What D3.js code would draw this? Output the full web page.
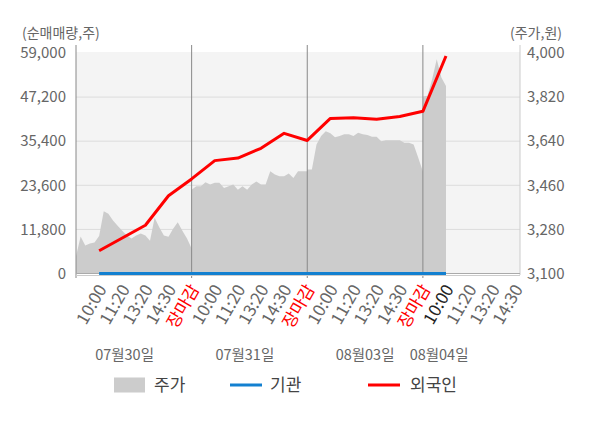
<!DOCTYPE html>
<html>
<head>
<meta charset="utf-8">
<script src="https://cdn.jsdelivr.net/npm/d3@7"></script>
<style>
  body { margin: 0; background: #fff; }
  svg text { font-family: "Noto Sans CJK KR", "Noto Sans", sans-serif; }
</style>
</head>
<body>
<div id="chart"></div>
<script>
const days = ["07월30일", "07월31일", "08월03일", "08월04일"];
const tickTimes = ["10:00", "11:20", "13:20", "14:30", "장마감"];
const dayLabelSlots = [2.1, 7.3, 12.5, 15.7];

const leftTicks = [0, 11800, 23600, 35400, 47200, 59000];
const rightTicks = [3100, 3280, 3460, 3640, 3820, 4000];

// 주가, one value every 0.2 slot
const priceDay1 = [3170, 3251, 3214, 3222, 3227, 3253, 3354, 3344, 3316, 3295, 3275, 3255, 3243,
  3255, 3263, 3255, 3234, 3328, 3289, 3255, 3250, 3283, 3309, 3275, 3243, 3202];
const priceDay2 = [3442, 3456, 3456, 3472, 3463, 3470, 3470, 3449, 3456, 3463, 3442, 3456, 3442,
  3463, 3476, 3463, 3463, 3517, 3504, 3497, 3497, 3508, 3490, 3517, 3517, 3517];
const priceDay3 = [3524, 3524, 3627, 3661, 3681, 3672, 3656, 3661, 3668, 3668, 3661, 3675, 3668,
  3665, 3658, 3658, 3640, 3644, 3644, 3644, 3644, 3634, 3634, 3627, 3572, 3516];
const priceDay4 = [3822, 3826, 3893, 3975, 3900, 3865];

// 순매매량 at each tick slot (1..16)
const foreign = [6100, 9500, 12900, 20800, 25300, 30200, 30900, 33500, 37500, 35600,
  41500, 41700, 41300, 42000, 43400, 58200];
const institution = [0, 0, 0, 0, 0, 0, 0, 0, 0, 0, 0, 0, 0, 0, 0, 0];

const width = 600, height = 428;
const plotLeft = 76, plotRight = 520, plotTop = 52, plotBottom = 273.5;

const svg = d3.select("#chart").append("svg")
  .attr("width", width)
  .attr("height", height);

const x = d3.scaleLinear().domain([0, 19.2]).range([plotLeft, plotRight]);
const yL = d3.scaleLinear().domain([0, 59000]).range([plotBottom, 53]);
const yR = d3.scaleLinear().domain([3100, 4000]).range([plotBottom, 53]);

// background
svg.append("rect")
  .attr("x", plotLeft).attr("y", plotTop)
  .attr("width", plotRight - plotLeft).attr("height", plotBottom - plotTop)
  .attr("fill", "#f4f4f4");

// grid
svg.selectAll(".grid")
  .data(leftTicks.slice(1, -1))
  .enter().append("line")
  .attr("x1", plotLeft).attr("x2", plotRight)
  .attr("y1", d => yL(d)).attr("y2", d => yL(d))
  .attr("stroke", "#dcdcdc");

// price area
const priceData = [];
[priceDay1, priceDay2, priceDay3, priceDay4].forEach((arr, d) => {
  arr.forEach((p, k) => priceData.push({ s: d * 5 + k * 0.2, p }));
});

const area = d3.area()
  .x(d => x(d.s))
  .y0(yR(3100))
  .y1(d => yR(d.p));

svg.append("path")
  .datum(priceData)
  .attr("d", area)
  .attr("fill", "#cccccc");

// day separators and axis lines
svg.selectAll(".sep")
  .data([0, 5, 10, 15])
  .enter().append("line")
  .attr("x1", d => x(d)).attr("x2", d => x(d))
  .attr("y1", 45).attr("y2", 278)
  .attr("stroke", "#888");

svg.append("line")
  .attr("x1", plotRight).attr("x2", plotRight)
  .attr("y1", 45).attr("y2", 275)
  .attr("stroke", "#ccc");

svg.append("line")
  .attr("x1", plotLeft).attr("x2", plotRight)
  .attr("y1", plotBottom).attr("y2", plotBottom)
  .attr("stroke", "#aaa");
svg.append("line")
  .attr("x1", plotLeft).attr("x2", plotRight)
  .attr("y1", plotBottom + 2).attr("y2", plotBottom + 2)
  .attr("stroke", "#ccc");

// lines
const line = d3.line()
  .x((d, i) => x(i + 1))
  .y(d => yL(d));

svg.append("path")
  .datum(institution)
  .attr("d", line)
  .attr("fill", "none")
  .attr("stroke", "#1380d0")
  .attr("stroke-width", 3);

svg.append("path")
  .datum(foreign)
  .attr("d", line)
  .attr("fill", "none")
  .attr("stroke", "#ff0000")
  .attr("stroke-width", 3)
  .attr("stroke-linejoin", "round");

// axis labels
svg.selectAll(".lt")
  .data(leftTicks)
  .enter().append("text")
  .attr("x", 66)
  .attr("y", d => yL(d))
  .attr("dy", "0.35em")
  .attr("text-anchor", "end")
  .attr("font-size", 15)
  .attr("fill", "#666")
  .text(d => d3.format(",")(d));

svg.selectAll(".rt")
  .data(rightTicks)
  .enter().append("text")
  .attr("x", 527)
  .attr("y", d => yR(d))
  .attr("dy", "0.35em")
  .attr("font-size", 15)
  .attr("fill", "#666")
  .text(d => d3.format(",")(d));

svg.append("text")
  .attr("x", 22).attr("y", 33).attr("dy", "0.35em")
  .attr("font-size", 14).attr("fill", "#666")
  .text("(순매매량,주)");

svg.append("text")
  .attr("x", 562).attr("y", 33).attr("dy", "0.35em")
  .attr("text-anchor", "end")
  .attr("font-size", 14).attr("fill", "#666")
  .text("(주가,원)");

// x tick labels
const xTicks = [];
days.forEach((day, d) => {
  tickTimes.forEach((t, k) => {
    const s = d * 5 + k + 1;
    if (s <= 19.2) xTicks.push({ s, t, d, k });
  });
});

svg.selectAll(".xt")
  .data(xTicks)
  .enter().append("text")
  .attr("transform", d => `translate(${x(d.s) + 3},${286}) rotate(-60)`)
  .attr("text-anchor", "end")
  .attr("dy", "0.35em")
  .attr("font-size", 17)
  .attr("fill", d => d.k === 4 ? "#ff0000" : (d.d === 3 && d.k === 0 ? "#222" : "#666"))
  .text(d => d.t);

svg.selectAll(".dl")
  .data(days)
  .enter().append("text")
  .attr("x", (d, i) => x(dayLabelSlots[i]))
  .attr("y", 355)
  .attr("dy", "0.35em")
  .attr("text-anchor", "middle")
  .attr("font-size", 14.5)
  .attr("fill", "#666")
  .text(d => d);

// legend
const legend = svg.append("g").attr("transform", "translate(0,385)");
legend.append("rect")
  .attr("x", 114).attr("y", -7.5).attr("width", 31).attr("height", 15)
  .attr("fill", "#cccccc");
legend.append("text").attr("x", 154).attr("dy", "0.35em")
  .attr("font-size", 17).attr("fill", "#444").text("주가");
legend.append("line")
  .attr("x1", 230).attr("x2", 262)
  .attr("stroke", "#1380d0").attr("stroke-width", 3);
legend.append("text").attr("x", 270).attr("dy", "0.35em")
  .attr("font-size", 17).attr("fill", "#444").text("기관");
legend.append("line")
  .attr("x1", 368).attr("x2", 400)
  .attr("stroke", "#ff0000").attr("stroke-width", 3);
legend.append("text").attr("x", 410).attr("dy", "0.35em")
  .attr("font-size", 17).attr("fill", "#444").text("외국인");
</script>
</body>
</html>
